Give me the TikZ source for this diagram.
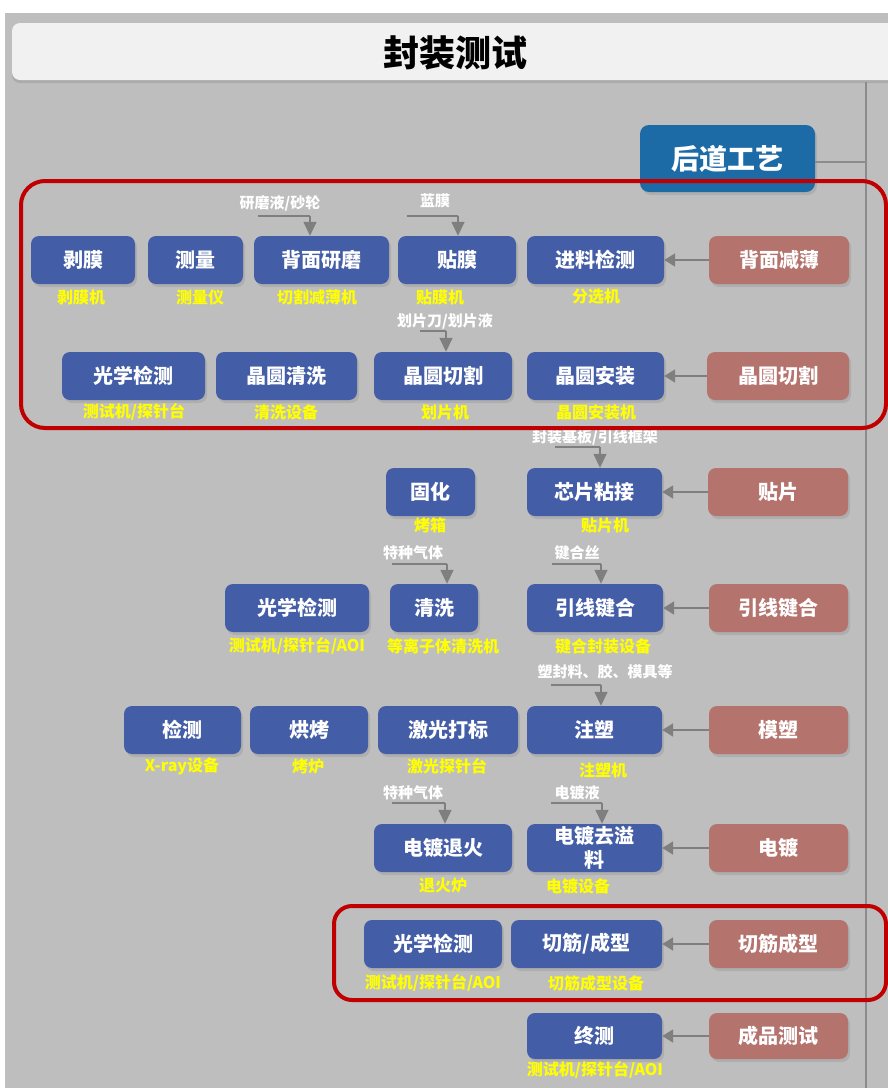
\documentclass[tikz,border=0pt]{standalone}
\usepackage{fontspec}
\newfontfamily\cjk{Noto Sans CJK SC}
\usetikzlibrary{arrows.meta,shadows}
\definecolor{bgray}{HTML}{BEBEBE}
\definecolor{hdr}{HTML}{F1F1F1}
\definecolor{bblue}{HTML}{435DA6}
\definecolor{ppink}{HTML}{B5736E}
\definecolor{dblue}{HTML}{1C6AA6}
\definecolor{rred}{HTML}{C00000}
\definecolor{agray}{HTML}{7F7F7F}
\definecolor{vline}{HTML}{8C8C8C}
\definecolor{yel}{HTML}{FFFF00}
\tikzset{
  boxbase/.style={rounded corners=8pt, minimum height=48pt, inner sep=0pt, text=white,
    font=\cjk\bfseries\fontsize{20}{22}\selectfont, align=center,
    drop shadow={opacity=0.25, shadow xshift=2pt, shadow yshift=-3pt}},
  bluebox/.style={boxbase, fill=bblue},
  pinkbox/.style={boxbase, fill=ppink},
  equip/.style={text=yel, font=\cjk\bfseries\fontsize{16}{17}\selectfont, inner sep=0pt},
  matl/.style={text=white, font=\cjk\bfseries\fontsize{15}{16}\selectfont, inner sep=0pt},
  flowarrow/.style={draw=agray, line width=2pt, -{Triangle[width=13pt,length=11pt]}},
  feedline/.style={draw=agray, line width=1.5pt},
  feedarrow/.style={draw=agray, line width=1.5pt, -{Triangle[width=13pt,length=14pt]}},
  redframe/.style={draw=rred, line width=4pt, rounded corners=24pt},
}
\begin{document}
\begin{tikzpicture}[x=1pt,y=-1pt]
\useasboundingbox (0,0) rectangle (888,1088);
\fill[white] (0,0) rectangle (888,1088);
\fill[bgray] (5,13) rectangle (888,1088);
% header
\node[fill=hdr, rounded corners=8pt, minimum width=900pt, minimum height=57pt, inner sep=0pt,
  drop shadow={opacity=0.3, shadow xshift=0pt, shadow yshift=-3pt}] (hdrbox) at (462,51.5) {};
\node[font=\cjk\bfseries\fontsize{36}{38}\selectfont, text=black] (title) at (455,53) {封装测试};
% vertical rule
\coordinate (vtop) at (866,82);
\coordinate (vbot) at (866,1088);
\draw[vline, line width=1.5pt] (vtop) -- (vbot);
% back-end box
\node[fill=dblue, rounded corners=9pt, minimum width=175pt, minimum height=67pt, inner sep=0pt,
  text=white, font=\cjk\bfseries\fontsize{28}{30}\selectfont,
  drop shadow={opacity=0.25, shadow xshift=2pt, shadow yshift=-3pt}] (hd) at (727.5,158.5) {后道工艺};
\coordinate (hdr1) at (866,162);
\draw[vline, line width=1.5pt] (hd.east |- hdr1) -- (hdr1);

% Row 1
\node[bluebox, minimum width=104pt] (bm1) at (83,260) {剥膜};
\node[bluebox, minimum width=95pt] (cl1) at (195.5,260) {测量};
\node[bluebox, minimum width=135pt] (ym) at (321.5,260) {背面研磨};
\node[bluebox, minimum width=118pt] (tm) at (457,260) {贴膜};
\node[bluebox, minimum width=137pt] (jl) at (595.5,260) {进料检测};
\node[pinkbox, minimum width=140pt] (p1) at (779,260) {背面减薄};
\node[equip] (e1a) at (81,297) {剥膜机};
\node[equip] (e1b) at (200,297) {测量仪};
\node[equip] (e1c) at (317,297) {切割减薄机};
\node[equip] (e1d) at (440,297) {贴膜机};
\node[equip] (e1e) at (596,297) {分选机};
\node[matl] (m1a) at (280,203) {研磨液/砂轮};
\node[matl] (m1b) at (435,201) {蓝膜};
\coordinate (f1s) at (258,216); \coordinate (f1e) at (310,216);
\coordinate (f2s) at (407,216); \coordinate (f2e) at (458,216);
\draw[feedline] (f1s) -- (f1e); \draw[feedarrow] (f1e) -- (f1e |- ym.north);
\draw[feedline] (f2s) -- (f2e); \draw[feedarrow] (f2e) -- (f2e |- tm.north);
\draw[flowarrow] (p1.west) -- (jl.east);

% Row 2
\node[bluebox, minimum width=143pt] (gx1) at (133.5,376) {光学检测};
\node[bluebox, minimum width=141pt] (qx1) at (286.5,376) {晶圆清洗};
\node[bluebox, minimum width=138pt] (qg) at (443,376) {晶圆切割};
\node[bluebox, minimum width=137pt] (az) at (595.5,376) {晶圆安装};
\node[pinkbox, minimum width=142pt] (p2) at (778,376) {晶圆切割};
\node[equip] (e2a) at (134,412) {测试机/探针台};
\node[equip] (e2b) at (286,412) {清洗设备};
\node[equip] (e2c) at (445,412) {划片机};
\node[equip] (e2d) at (596,412) {晶圆安装机};
\node[matl] (m2a) at (445,321) {划片刀/划片液};
\coordinate (f3s) at (420,331); \coordinate (f3e) at (446,331);
\draw[feedline] (f3s) -- (f3e); \draw[feedarrow] (f3e) -- (f3e |- qg.north);
\draw[flowarrow] (p2.west) -- (az.east);

% Row 3
\node[bluebox, minimum width=89pt] (gh) at (430.5,492) {固化};
\node[bluebox, minimum width=135pt] (zj) at (594.5,492) {芯片粘接};
\node[pinkbox, minimum width=140pt] (p3) at (778,492) {贴片};
\node[equip] (e3a) at (430,525) {烤箱};
\node[equip] (e3b) at (605,525) {贴片机};
\node[matl] (m3a) at (595,437) {封装基板/引线框架};
\coordinate (f4s) at (555,447); \coordinate (f4e) at (600,447);
\draw[feedline] (f4s) -- (f4e); \draw[feedarrow] (f4e) -- (f4e |- zj.north);
\draw[flowarrow] (p3.west) -- (zj.east);

% Row 4
\node[bluebox, minimum width=144pt] (gx2) at (297,608) {光学检测};
\node[bluebox, minimum width=88pt] (qx2) at (434,608) {清洗};
\node[bluebox, minimum width=136pt] (jh) at (595,608) {引线键合};
\node[pinkbox, minimum width=139pt] (p4) at (778.5,608) {引线键合};
\node[equip] (e4a) at (297,646) {测试机/探针台/AOI};
\node[equip] (e4b) at (443,646) {等离子体清洗机};
\node[equip] (e4c) at (603,646) {键合封装设备};
\node[matl] (m4a) at (413,553) {特种气体};
\node[matl] (m4b) at (577,553) {键合丝};
\coordinate (f5s) at (392,564); \coordinate (f5e) at (447,564);
\coordinate (f6s) at (552,564); \coordinate (f6e) at (601,564);
\draw[feedline] (f5s) -- (f5e); \draw[feedarrow] (f5e) -- (f5e |- qx2.north);
\draw[feedline] (f6s) -- (f6e); \draw[feedarrow] (f6e) -- (f6e |- jh.north);
\draw[flowarrow] (p4.west) -- (jh.east);

% Row 5
\node[bluebox, minimum width=117pt] (jc) at (182.5,730) {检测};
\node[bluebox, minimum width=118pt] (hk) at (309,730) {烘烤};
\node[bluebox, minimum width=140pt] (jg) at (448,730) {激光打标};
\node[bluebox, minimum width=135pt] (zs) at (594.5,730) {注塑};
\node[pinkbox, minimum width=139pt] (p5) at (778.5,730) {模塑};
\node[equip] (e5a) at (182,766) {X-ray设备};
\node[equip] (e5b) at (308,766) {烤炉};
\node[equip] (e5c) at (447,766) {激光探针台};
\node[equip] (e5d) at (603,770) {注塑机};
\node[matl] (m5a) at (605,672) {塑封料、胶、模具等};
\coordinate (f7s) at (551,685); \coordinate (f7e) at (601,685);
\draw[feedline] (f7s) -- (f7e); \draw[feedarrow] (f7e) -- (f7e |- zs.north);
\draw[flowarrow] (p5.west) -- (zs.east);

% Row 6
\node[bluebox, minimum width=138pt] (th) at (443,848) {电镀退火};
\node[bluebox, minimum width=135pt, font=\cjk\bfseries\fontsize{20}{24}\selectfont] (qy) at (594.5,848) {电镀去溢\\料};
\node[pinkbox, minimum width=139pt] (p6) at (778.5,848) {电镀};
\node[equip] (e6a) at (443,885) {退火炉};
\node[equip] (e6b) at (578,886) {电镀设备};
\node[matl] (m6a) at (413,793) {特种气体};
\node[matl] (m6b) at (577,793) {电镀液};
\coordinate (f8s) at (392,803); \coordinate (f8e) at (445,803);
\coordinate (f9s) at (551,803); \coordinate (f9e) at (602,803);
\draw[feedline] (f8s) -- (f8e); \draw[feedarrow] (f8e) -- (f8e |- th.north);
\draw[feedline] (f9s) -- (f9e); \draw[feedarrow] (f9e) -- (f9e |- qy.north);
\draw[flowarrow] (p6.west) -- (qy.east);

% Row 7
\node[bluebox, minimum width=138pt] (gx3) at (433,944) {光学检测};
\node[bluebox, minimum width=151pt] (qj) at (586.5,944) {切筋/成型};
\node[pinkbox, minimum width=139pt] (p7) at (778.5,944) {切筋成型};
\node[equip] (e7a) at (433,983) {测试机/探针台/AOI};
\node[equip] (e7b) at (596,983) {切筋成型设备};
\draw[flowarrow] (p7.west) -- (qj.east);

% Row 8
\node[bluebox, minimum width=135pt, minimum height=46pt] (zc) at (594.5,1036) {终测};
\node[pinkbox, minimum width=139pt, minimum height=46pt] (p8) at (778.5,1036) {成品测试};
\node[equip] (e8a) at (595,1070) {测试机/探针台/AOI};
\draw[flowarrow] (p8.west) -- (zc.east);

% red frames
\coordinate (r1a) at (21,181); \coordinate (r1b) at (886,428);
\coordinate (r2a) at (334,906); \coordinate (r2b) at (886,1000);
\draw[redframe] (r1a) rectangle (r1b);
\draw[redframe, rounded corners=18pt] (r2a) rectangle (r2b);
\end{tikzpicture}
\end{document}
